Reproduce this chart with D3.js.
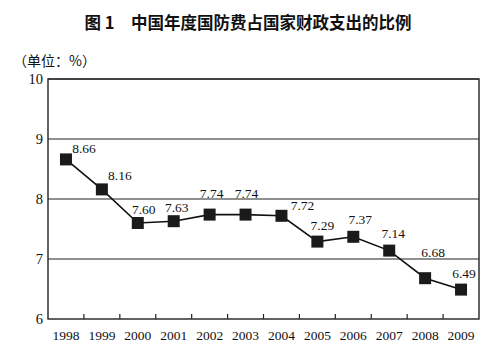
<!DOCTYPE html>
<html>
<head>
<meta charset="utf-8">
<script src="https://cdn.jsdelivr.net/npm/d3@7"></script>
<style>
  body { margin: 0; background: #fff; }
  svg text { font-family: "Liberation Serif", "DejaVu Serif", serif; fill: #111; }
</style>
</head>
<body>
<div id="chart"></div>
<script>
const years = ['1998', '1999', '2000', '2001', '2002', '2003', '2004', '2005', '2006', '2007', '2008', '2009'];
const shares = [8.66, 8.16, 7.60, 7.63, 7.74, 7.74, 7.72, 7.29, 7.37, 7.14, 6.68, 6.49];
const yTicks = [6, 7, 8, 9, 10];
// label nudges (dx, dy) relative to each marker, as printed in the source
const labelShift = [[18, -11], [18, -14], [6, -14], [3, -14], [2, -21], [1, -21], [21, -11], [5, -16], [7, -18], [4, -17], [8, -26], [3, -16]];

const margin = { top: 79, right: 21, bottom: 32, left: 48 };
const width = 500 - margin.left - margin.right;
const height = 351 - margin.top - margin.bottom;

const svg = d3.select('#chart').append('svg')
  .attr('width', 500)
  .attr('height', 351);

svg.append('text')
  .attr('x', 248)
  .attr('y', 29)
  .attr('text-anchor', 'middle')
  .style('font-family', '"Noto Sans CJK SC", sans-serif')
  .style('font-weight', 'bold')
  .style('font-size', '16.5px')
  .text('图 1　中国年度国防费占国家财政支出的比例');

svg.append('text')
  .attr('x', 13)
  .attr('y', 66)
  .style('font-family', '"Noto Sans CJK SC", sans-serif')
  .style('font-size', '14px')
  .text('（单位：%）');

const g = svg.append('g')
  .attr('transform', 'translate(' + margin.left + ',' + margin.top + ')');

const x = d3.scaleBand().domain(years).range([0, width]);
const y = d3.scaleLinear().domain([6, 10]).range([height, 0]);

// grid lines
g.selectAll('.grid')
  .data(yTicks.filter(d => d > 6))
  .enter().append('line')
  .attr('x1', 0).attr('x2', width)
  .attr('y1', d => y(d)).attr('y2', d => y(d))
  .attr('stroke', '#222')
  .attr('stroke-width', 1.2);

// frame
g.append('rect')
  .attr('width', width).attr('height', height)
  .attr('fill', 'none')
  .attr('stroke', '#222')
  .attr('stroke-width', 1.4);

// y axis
const yAxis = g.append('g')
  .call(d3.axisLeft(y).tickValues(yTicks).tickSize(0).tickPadding(5).tickFormat(d3.format('d')));
yAxis.select('.domain').remove();
yAxis.selectAll('text').style('font-size', '14.5px').style('font-family', '"Liberation Serif", serif');

// x axis with inward ticks at band edges
const xAxis = g.append('g')
  .attr('transform', 'translate(0,' + height + ')')
  .call(d3.axisBottom(x).tickSize(0).tickPadding(11));
xAxis.select('.domain').remove();
xAxis.selectAll('text').style('font-size', '13.5px').style('font-family', '"Liberation Serif", serif');

g.selectAll('.xtick')
  .data(years.slice(1))
  .enter().append('line')
  .attr('x1', d => x(d)).attr('x2', d => x(d))
  .attr('y1', height).attr('y2', height - 5)
  .attr('stroke', '#222')
  .attr('stroke-width', 1.2);

const line = d3.line()
  .x((d, i) => x(years[i]) + x.bandwidth() / 2)
  .y(d => y(d));

g.append('path')
  .datum(shares)
  .attr('d', line)
  .attr('fill', 'none')
  .attr('stroke', '#111')
  .attr('stroke-width', 1.6);

const sz = 12;
g.selectAll('.marker')
  .data(shares)
  .enter().append('rect')
  .attr('x', (d, i) => x(years[i]) + x.bandwidth() / 2 - sz / 2)
  .attr('y', d => y(d) - sz / 2)
  .attr('width', sz).attr('height', sz)
  .attr('fill', '#1a1a1a');

g.selectAll('.vlabel')
  .data(shares)
  .enter().append('text')
  .attr('x', (d, i) => x(years[i]) + x.bandwidth() / 2 + labelShift[i][0])
  .attr('y', (d, i) => y(d) + labelShift[i][1])
  .attr('dy', '0.35em')
  .attr('text-anchor', 'middle')
  .style('font-size', '13.5px')
  .text(d => d.toFixed(2));
</script>
</body>
</html>
